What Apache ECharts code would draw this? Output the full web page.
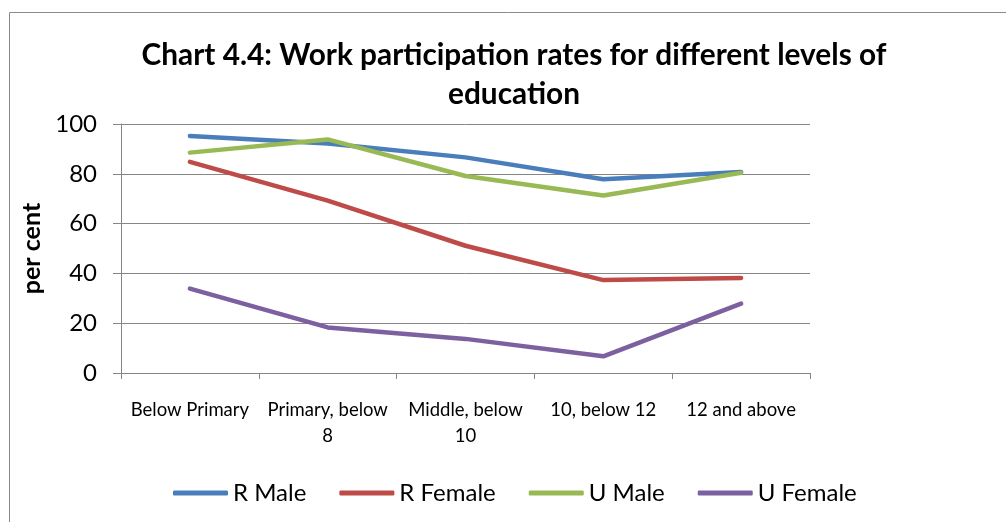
<!DOCTYPE html>
<html><head><meta charset="utf-8">
<script src="https://cdn.jsdelivr.net/npm/echarts@6/dist/echarts.min.js"></script>
<style>html,body{margin:0;padding:0;background:#fff}#c{width:1006px;height:522px}</style>
</head><body><div id="c"></div>
<script>
const categories = ['Below Primary', 'Primary, below\n8', 'Middle, below\n10', '10, below 12', '12 and above'];
const rMale = [95.2, 92.2, 86.6, 77.8, 80.7];
const rFemale = [84.8, 69.2, 51.1, 37.3, 38.2];
const uMale = [88.5, 93.8, 79.1, 71.3, 80.4];
const uFemale = [33.9, 18.3, 13.7, 6.7, 27.9];
const seriesNames = ['R Male', 'R Female', 'U Male', 'U Female'];
const colors = ['#4A7EBB', '#BE4B48', '#98B954', '#7D60A0'];
const FONT = 'Lato, "Open Sans", sans-serif';

const chart = echarts.init(document.getElementById('c'), null, {renderer: 'canvas'});
const mk = (name, data, color) => ({
  name, type: 'line', data, symbol: 'none', smooth: false,
  lineStyle: {width: 4.5, color, cap: 'round', join: 'round'},
  itemStyle: {color}
});
chart.setOption({
  animation: false,
  graphic: [{type: 'rect', shape: {x: 9.5, y: 12.5, width: 1100, height: 600},
    style: {fill: 'none', stroke: '#8a8a8a', lineWidth: 1}, silent: true}],
  title: {
    text: 'Chart 4.4: Work participation rates for different levels of\neducation',
    left: 514, textAlign: 'center', top: 36, padding: 0,
    textStyle: {fontFamily: FONT, fontWeight: 'bold', fontSize: 29.8, lineHeight: 39, color: '#000'}
  },
  legend: {
    data: seriesNames, bottom: 17, left: 173, padding: 0, itemWidth: 55, itemHeight: 5, itemGap: 33,
    icon: 'roundRect',
    textStyle: {fontFamily: FONT, fontSize: 24, color: '#000', padding: [0, 0, 0, 0]}
  },
  grid: {left: 121, right: 196, top: 124, bottom: 149, containLabel: false},
  xAxis: {
    type: 'category', data: categories, boundaryGap: true,
    axisLine: {lineStyle: {color: '#868686', width: 1}},
    axisTick: {show: true, length: 6, inside: false, alignWithLabel: false, lineStyle: {color: '#868686'}},
    axisLabel: {fontFamily: FONT, fontSize: 18.5, color: '#000', margin: 24, lineHeight: 26, interval: 0}
  },
  yAxis: {
    type: 'value', min: 0, max: 100, interval: 20,
    name: 'per cent', nameLocation: 'middle', nameGap: 75, nameRotate: 90,
    nameTextStyle: {fontFamily: FONT, fontWeight: 'bold', fontSize: 25, color: '#000'},
    axisLine: {show: true, lineStyle: {color: '#868686', width: 1}},
    axisTick: {show: true, length: 8, lineStyle: {color: '#868686'}},
    splitLine: {show: true, lineStyle: {color: '#868686', width: 1}},
    axisLabel: {fontFamily: FONT, fontSize: 24, color: '#000', margin: 24}
  },
  series: [mk(seriesNames[0], rMale, colors[0]), mk(seriesNames[1], rFemale, colors[1]),
           mk(seriesNames[2], uMale, colors[2]), mk(seriesNames[3], uFemale, colors[3])]
});
</script></body></html>
